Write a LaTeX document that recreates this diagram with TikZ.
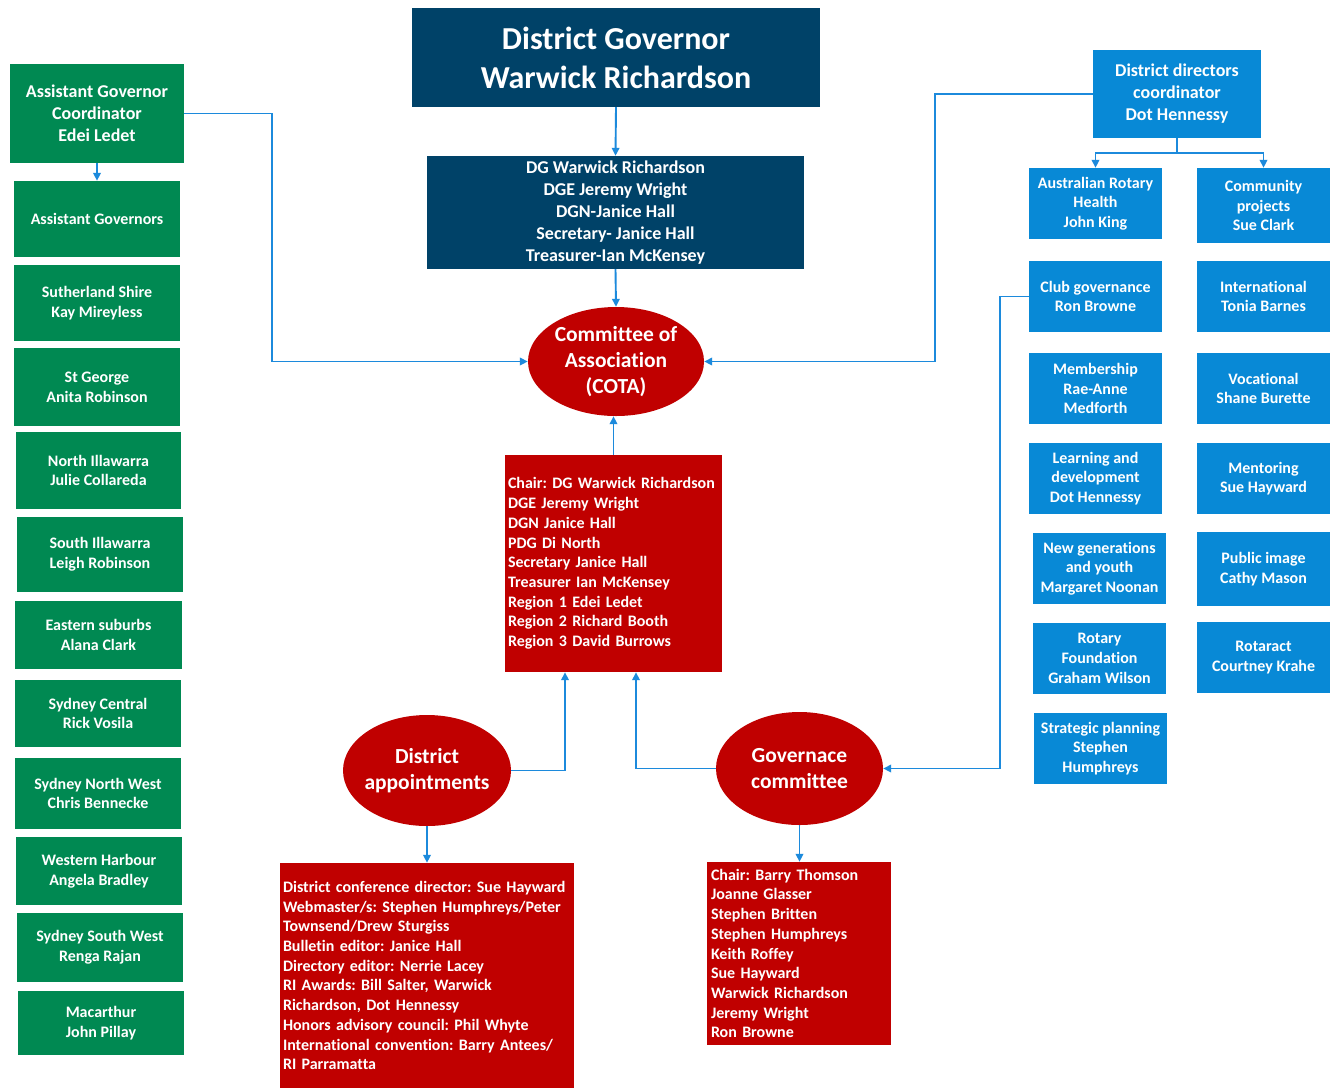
\documentclass[tikz,border=0pt]{standalone}
\usepackage{fontspec}
\setmainfont[Ligatures=NoCommon]{Carlito}
\usetikzlibrary{shapes.geometric,arrows.meta}
\definecolor{gr}{RGB}{0,137,82}
\definecolor{navy}{RGB}{0,66,104}
\definecolor{bl}{RGB}{8,137,214}
\definecolor{rd}{RGB}{192,0,0}
\definecolor{ln}{RGB}{28,138,220}
\frenchspacing
\hyphenpenalty=10000
\exhyphenpenalty=10000
\begin{document}
\begin{tikzpicture}[x=1pt,y=-1pt,
 base/.style={inner sep=0pt, text=white, align=center, font=\bfseries\fontsize{16}{19.7}\selectfont},
 big/.style={font=\bfseries\fontsize{18}{22}\selectfont},
 gbox/.style={base, fill=gr},
 nbox/.style={base, fill=navy},
 bbox/.style={base, fill=bl},
 rbox/.style={base, fill=rd, align=left, inner xsep=3pt},
 ell/.style={base, fill=rd, ellipse, inner sep=-6pt, font=\bfseries\fontsize{21.5}{26}\selectfont},
 conn/.style={draw=ln, line width=1.9pt, -{Triangle[length=8pt,width=7.5pt]}}
]
\useasboundingbox (0,0) rectangle (1335,1088);
\fill[white] (0,0) rectangle (1335,1088);

% green column
\node[gbox, big, minimum width=174, minimum height=99] (ag) at (97,113.5) {Assistant Governor\\Coordinator\\Edei Ledet};
\node[gbox, minimum width=166, minimum height=76] (agg) at (97,219) {Assistant Governors};
\node[gbox, minimum width=166, minimum height=76] (ss) at (97,303) {Sutherland Shire\\Kay Mireyless};
\node[gbox, minimum width=166, minimum height=78] (sg) at (97,387) {St George\\Anita Robinson};
\node[gbox, minimum width=165, minimum height=77] (ni) at (98.5,470.5) {North Illawarra\\Julie Collareda};
\node[gbox, minimum width=166, minimum height=75] (si) at (100,554.5) {South Illawarra\\Leigh Robinson};
\node[gbox, minimum width=167, minimum height=68] (es) at (98.5,635) {Eastern suburbs\\Alana Clark};
\node[gbox, minimum width=166, minimum height=67] (sc) at (98,713.5) {Sydney Central\\Rick Vosila};
\node[gbox, minimum width=166, minimum height=71] (snw) at (98,793.5) {Sydney North West\\Chris Bennecke};
\node[gbox, minimum width=166, minimum height=68] (wh) at (99,871) {Western Harbour\\Angela Bradley};
\node[gbox, minimum width=166, minimum height=69] (ssw) at (100,947.5) {Sydney South West\\Renga Rajan};
\node[gbox, minimum width=166, minimum height=64] (mac) at (101,1023) {Macarthur\\John Pillay};

% navy
\node[nbox, minimum width=408, minimum height=99, font=\bfseries\fontsize{32}{39}\selectfont] (dg) at (616,57.5) {District Governor\\Warwick Richardson};
\node[nbox, big, minimum width=377, minimum height=113] (dgb) at (615.5,212.5) {DG Warwick Richardson\\DGE Jeremy Wright\\DGN-Janice Hall\\Secretary- Janice Hall\\Treasurer-Ian McKensey};

% red
\node[ell, minimum width=176, minimum height=109] (cota) at (616,361.5) {Committee of\\Association\\(COTA)};
\node[rbox, text width=211pt, minimum height=217] (cotamem) at (613.5,563.5) {Chair: DG Warwick Richardson\\DGE Jeremy Wright\\DGN Janice Hall\\PDG Di North\\Secretary Janice Hall\\Treasurer Ian McKensey\\Region 1 Edei Ledet\\Region 2 Richard Booth\\Region 3 David Burrows};
\node[ell, minimum width=168, minimum height=111] (da) at (427,770.5) {District\\appointments};
\node[ell, minimum width=167, minimum height=113] (gc) at (799.5,768.5) {Governace\\committee};
\node[rbox, text width=288pt, minimum height=225] (dabox) at (427,975.5) {District conference director: Sue Hayward\\Webmaster/s: Stephen Humphreys/Peter\\Townsend/Drew Sturgiss\\Bulletin editor: Janice Hall\\Directory editor: Nerrie Lacey\\RI Awards: Bill Salter, Warwick\\Richardson, Dot Hennessy\\Honors advisory council: Phil Whyte\\International convention: Barry Antees/\\RI Parramatta};
\node[rbox, inner xsep=4pt, text width=176pt, minimum height=183] (gcbox) at (799,953.5) {Chair: Barry Thomson\\Joanne Glasser\\Stephen Britten\\Stephen Humphreys\\Keith Roffey\\Sue Hayward\\Warwick Richardson\\Jeremy Wright\\Ron Browne};

% blue
\node[bbox, big, minimum width=168, minimum height=88] (ddc) at (1177,94) {District directors\\coordinator\\Dot Hennessy};
\node[bbox, minimum width=133, minimum height=71] (arh) at (1095.5,203.5) {Australian Rotary\\Health\\John King};
\node[bbox, minimum width=133, minimum height=75] (cp) at (1263.5,205.5) {Community\\projects\\Sue Clark};
\node[bbox, minimum width=133, minimum height=71] (cg) at (1095.5,296.5) {Club governance\\Ron Browne};
\node[bbox, minimum width=133, minimum height=71] (intl) at (1263.5,296.5) {International\\Tonia Barnes};
\node[bbox, minimum width=133, minimum height=71] (mem) at (1095.5,388.5) {Membership\\Rae-Anne\\Medforth};
\node[bbox, minimum width=133, minimum height=71] (voc) at (1263.5,388.5) {Vocational\\Shane Burette};
\node[bbox, minimum width=133, minimum height=71] (ld) at (1095.5,478.5) {Learning and\\development\\Dot Hennessy};
\node[bbox, minimum width=133, minimum height=71] (ment) at (1263.5,478.5) {Mentoring\\Sue Hayward};
\node[bbox, minimum width=133, minimum height=71] (ng) at (1099.5,568.5) {New generations\\and youth\\Margaret Noonan};
\node[bbox, minimum width=133, minimum height=74] (pi) at (1263.5,569) {Public image\\Cathy Mason};
\node[bbox, minimum width=133, minimum height=71] (rf) at (1099.5,658.5) {Rotary\\Foundation\\Graham Wilson};
\node[bbox, minimum width=133, minimum height=71] (rot) at (1263.5,657.5) {Rotaract\\Courtney Krahe};
\node[bbox, minimum width=133, minimum height=71] (sp) at (1100.5,748.5) {Strategic planning\\Stephen\\Humphreys};

% connectors
\draw[conn] (dg.south) -- (dgb.north);
\draw[conn] (dgb.south) -- (cota.north);
\draw[conn] (cotamem.north) -- (cotamem.north |- cota.south);
\draw[conn] (ag.south) -- (agg.north);
\draw[conn] (ag.east) -- ++(88,0) |- (cota.west);
\draw[conn] (ddc.west) -- ++(-158,0) |- (cota.east);
\draw[conn] (ddc.south) -- ++(0,15) -| (arh.north);
\draw[conn] (ddc.south) -- ++(0,15) -| (cp.north);
\draw[conn] (cg.west) -- ++(-29,0) |- (gc.east);
\draw[conn] (da.east) -| ([xshift=-48.5pt]cotamem.south);
\draw[conn] (gc.west) -| ([xshift=22.5pt]cotamem.south);
\draw[conn] (da.south) -- (dabox.north);
\draw[conn] (gc.south) -- (gc.south |- gcbox.north);
\end{tikzpicture}
\end{document}
